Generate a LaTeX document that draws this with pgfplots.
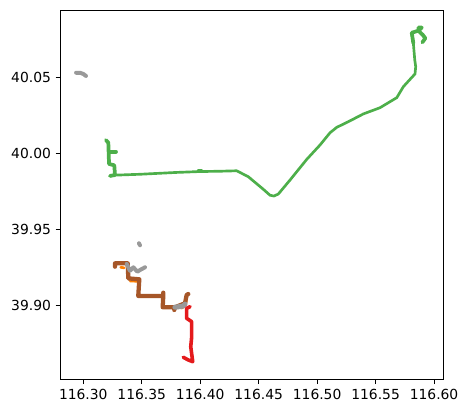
\documentclass[border=0pt]{standalone}
\usepackage{fontspec}
\setmainfont{DejaVu Sans}
\usepackage{pgfplots}
\pgfplotsset{compat=1.18}
\definecolor{sgreen}{HTML}{4DAF4A}
\definecolor{sred}{HTML}{E41A1C}
\definecolor{sorange}{HTML}{FF7F00}
\definecolor{sbrown}{HTML}{A65628}
\definecolor{sgray}{HTML}{999999}
\begin{document}
\begin{tikzpicture}
\path[use as bounding box] (0,0) rectangle (351pt,309.75pt);
\begin{axis}[
  at={(45.375pt,25.275pt)}, anchor=south west,
  scale only axis, width=287.1pt, height=276.75pt,
  xmin=116.2805, xmax=116.6079, ymin=39.8511, ymax=40.0939,
  xtick={116.30,116.35,116.40,116.45,116.50,116.55,116.60},
  ytick={39.90,39.95,40.00,40.05},
  scaled x ticks=false, scaled y ticks=false,
  xtick pos=bottom, ytick pos=left, tick align=outside,
  major tick length=3.65pt,
  every tick/.style={black,line width=0.6pt},
  axis line style={black,line width=0.6pt},
  /pgf/number format/assume math mode=true,
  /pgf/number format/fixed, /pgf/number format/fixed zerofill,
  /pgf/number format/precision=2, /pgf/number format/1000 sep={},
  tick label style={font=\fontsize{10.4pt}{12pt}\selectfont, text=black},
  xticklabel style={yshift=-0.6pt},
  every axis plot/.append style={no markers, line cap=round, line join=round},
]
% orange
\addplot[sorange,line width=2pt] coordinates {(116.3320,39.9248)(116.3350,39.9244)};
\addplot[sorange,line width=2pt] coordinates {(116.3400,39.9158)(116.3460,39.9156)};
\addplot[sorange,line width=2.4pt] coordinates {(116.3842,39.8980)(116.3880,39.9025)};
% brown
\addplot[sbrown,line width=3.2pt] coordinates {
(116.3271,39.9252)(116.3271,39.9274)(116.3380,39.9274)(116.3385,39.9175)(116.3479,39.9169)
(116.3470,39.9059)(116.3684,39.9059)(116.3684,39.9081)(116.3684,39.9059)(116.3679,39.8985)
(116.3784,39.8985)(116.3778,39.8967)(116.3784,39.8985)(116.3870,39.9011)(116.3884,39.9066)(116.3898,39.9072)};
% gray
\addplot[sgray,line width=3pt] coordinates {(116.2938,40.0528)(116.2972,40.0528)(116.3000,40.0520)(116.3023,40.0507)};
\addplot[sgray,line width=3pt] coordinates {(116.3476,39.9406)(116.3485,39.9393)};
\addplot[sgray,line width=3pt] coordinates {(116.3371,39.9270)(116.3399,39.9225)(116.3428,39.9248)(116.3462,39.9219)(116.3485,39.9230)(116.3528,39.9248)};
\addplot[sgray,line width=3.8pt] coordinates {(116.3784,39.8985)(116.3855,39.8993)(116.3870,39.9006)};
% red
\addplot[sred,line width=2.7pt] coordinates {
(116.3913,39.8989)(116.3884,39.8978)(116.3884,39.8912)(116.3927,39.8890)(116.3927,39.8791)
(116.3919,39.8725)(116.3936,39.8627)(116.3898,39.8638)(116.3855,39.8656)};
% green
\addplot[sgreen,line width=2.8pt] coordinates {(116.3220,40.0008)(116.3280,40.0008)};
\addplot[sgreen,line width=2.8pt] coordinates {
(116.3194,40.0085)(116.3214,40.0068)(116.3220,39.9928)(116.3265,39.9919)(116.3271,39.9855)(116.3228,39.9849)(116.3263,39.9854)};
\addplot[sgreen,line width=2pt] coordinates {
(116.3263,39.9854)(116.3485,39.9860)(116.3793,39.9872)(116.3998,39.9878)(116.4169,39.9880)(116.4312,39.9883)
(116.4411,39.9844)(116.4540,39.9761)(116.4597,39.9722)(116.4631,39.9717)(116.4668,39.9730)(116.4768,39.9822)
(116.4911,39.9958)(116.5025,40.0053)(116.5110,40.0133)(116.5168,40.0169)(116.5267,40.0206)(116.5395,40.0257)
(116.5538,40.0298)(116.5681,40.0364)(116.5737,40.0436)(116.5795,40.0485)(116.5837,40.0520)(116.5843,40.0568)
(116.5835,40.0612)(116.5823,40.0722)(116.5809,40.0791)};
\addplot[sgreen,line width=2.8pt] coordinates {
(116.5823,40.0722)(116.5809,40.0791)(116.5866,40.0805)(116.5866,40.0825)(116.5895,40.0825)
(116.5866,40.0805)(116.5905,40.0776)(116.5925,40.0755)(116.5900,40.0728)};
\addplot[sgreen,line width=2.8pt] coordinates {(116.3985,39.9880)(116.4010,39.9880)};
\end{axis}
\end{tikzpicture}
\end{document}
